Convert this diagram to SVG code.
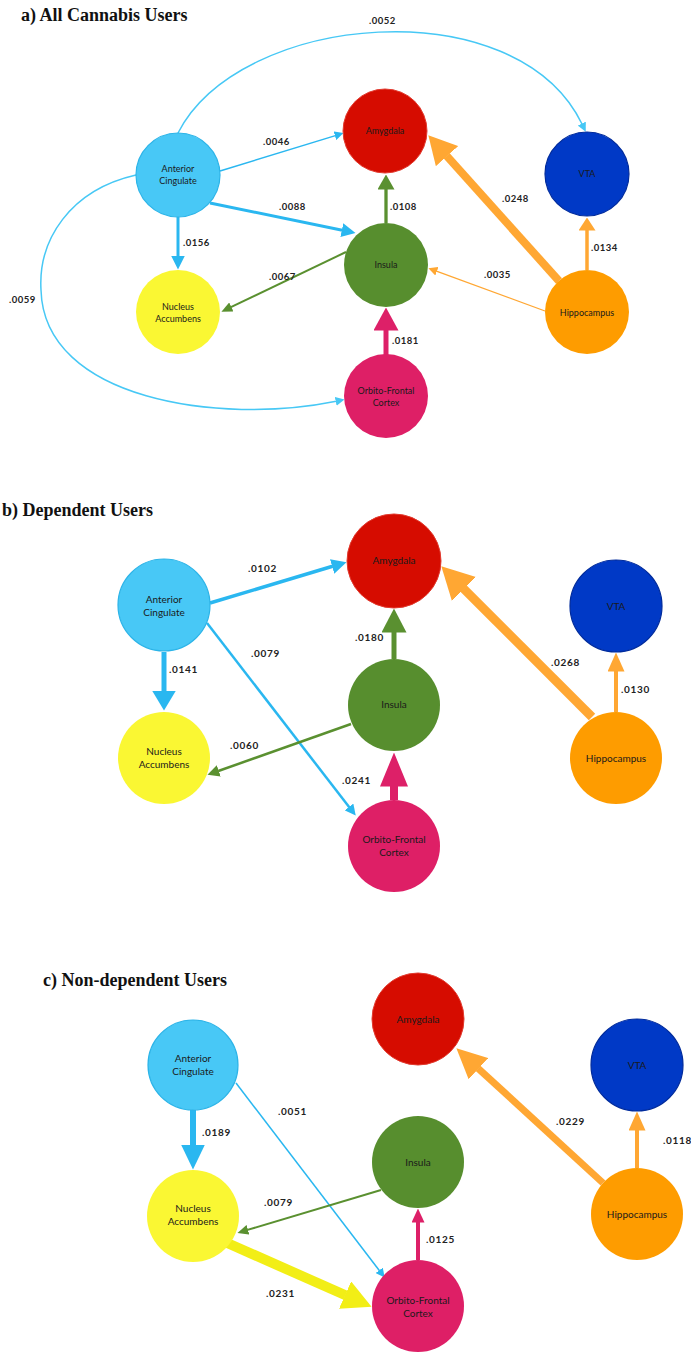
<svg xmlns="http://www.w3.org/2000/svg" width="691" height="1353" viewBox="0 0 691 1353">
<style>
.title{font-family:"Liberation Serif","Times New Roman",serif;font-weight:bold;font-size:18px;fill:#111}
.nl{font-family:Lato,"Open Sans",sans-serif;font-size:9px;fill:#1a1a1a;text-anchor:middle}
.nlb{font-family:Lato,"Open Sans",sans-serif;font-size:10px;fill:#1a1a1a;text-anchor:middle}
.el{font-family:Lato,"Open Sans",sans-serif;font-weight:bold;font-size:9.5px;fill:#222;letter-spacing:0.5px}
.elb{font-family:Lato,"Open Sans",sans-serif;font-weight:bold;font-size:10px;fill:#222;letter-spacing:0.7px}
.ac{fill:#48c8f6;stroke:#2cb4e8;stroke-width:1.2}
.am{fill:#d60c00;stroke:#e23a2e;stroke-width:1}
.vta{fill:#0039c6;stroke:#002b9c;stroke-width:1.2}
.ins{fill:#578e2e}
.hip{fill:#fe9c00}
.ofc{fill:#de1f66}
.nac{fill:#faf733}
.eb{fill:none;stroke:#2ab7f0}
.elb2{fill:none;stroke:#47c8f5}
.eg{fill:none;stroke:#5a9030}
.eo{fill:none;stroke:#ffa733}
.ep{fill:none;stroke:#dd2068}
.ey{fill:none;stroke:#f2ee16}
</style>
<defs>
<marker id="mLB1" markerUnits="userSpaceOnUse" markerWidth="9" markerHeight="9" refX="0.5" refY="4.5" orient="auto"><path d="M0,0 L9,4.5 L0,9 z" fill="#47c8f5"/></marker>
<marker id="mB1" markerUnits="userSpaceOnUse" markerWidth="9" markerHeight="9" refX="0.5" refY="4.5" orient="auto"><path d="M0,0 L9,4.5 L0,9 z" fill="#2ab7f0"/></marker>
<marker id="mB2" markerUnits="userSpaceOnUse" markerWidth="14" markerHeight="14" refX="0.5" refY="7" orient="auto"><path d="M0,0 L14,7 L0,14 z" fill="#2ab7f0"/></marker>
<marker id="mB2b" markerUnits="userSpaceOnUse" markerWidth="15" markerHeight="15" refX="0.5" refY="7.5" orient="auto"><path d="M0,0 L15,7.5 L0,15 z" fill="#2ab7f0"/></marker>
<marker id="mB3" markerUnits="userSpaceOnUse" markerWidth="11" markerHeight="11" refX="0.5" refY="5.5" orient="auto"><path d="M0,0 L11,5.5 L0,11 z" fill="#2ab7f0"/></marker>
<marker id="mB4" markerUnits="userSpaceOnUse" markerWidth="20" markerHeight="24" refX="0.5" refY="12" orient="auto"><path d="M0,0 L20,12 L0,24 z" fill="#2ab7f0"/></marker>
<marker id="mB5" markerUnits="userSpaceOnUse" markerWidth="25" markerHeight="24" refX="0.5" refY="12" orient="auto"><path d="M0,0 L25,12 L0,24 z" fill="#2ab7f0"/></marker>
<marker id="mG1" markerUnits="userSpaceOnUse" markerWidth="11" markerHeight="10" refX="0.5" refY="5" orient="auto"><path d="M0,0 L11,5 L0,10 z" fill="#5a9030"/></marker>
<marker id="mG1b" markerUnits="userSpaceOnUse" markerWidth="12" markerHeight="12" refX="0.5" refY="6" orient="auto"><path d="M0,0 L12,6 L0,12 z" fill="#5a9030"/></marker>
<marker id="mG2" markerUnits="userSpaceOnUse" markerWidth="15" markerHeight="17" refX="0.5" refY="8.5" orient="auto"><path d="M0,0 L15,8.5 L0,17 z" fill="#5a9030"/></marker>
<marker id="mG3" markerUnits="userSpaceOnUse" markerWidth="24" markerHeight="25" refX="0.5" refY="12.5" orient="auto"><path d="M0,0 L24,12.5 L0,25 z" fill="#5a9030"/></marker>
<marker id="mO1" markerUnits="userSpaceOnUse" markerWidth="9" markerHeight="9" refX="0.5" refY="4.5" orient="auto"><path d="M0,0 L9,4.5 L0,9 z" fill="#ffa733"/></marker>
<marker id="mO2" markerUnits="userSpaceOnUse" markerWidth="13" markerHeight="17" refX="0.5" refY="8.5" orient="auto"><path d="M0,0 L13,8.5 L0,17 z" fill="#ffa733"/></marker>
<marker id="mO3" markerUnits="userSpaceOnUse" markerWidth="19" markerHeight="17" refX="0.5" refY="8.5" orient="auto"><path d="M0,0 L19,8.5 L0,17 z" fill="#ffa733"/></marker>
<marker id="mO4" markerUnits="userSpaceOnUse" markerWidth="28" markerHeight="30" refX="0.5" refY="15" orient="auto"><path d="M0,0 L28,15 L0,30 z" fill="#ffa733"/></marker>
<marker id="mO5" markerUnits="userSpaceOnUse" markerWidth="32" markerHeight="34" refX="0.5" refY="17" orient="auto"><path d="M0,0 L32,17 L0,34 z" fill="#ffa733"/></marker>
<marker id="mO6" markerUnits="userSpaceOnUse" markerWidth="30" markerHeight="29" refX="0.5" refY="14.5" orient="auto"><path d="M0,0 L30,14.5 L0,29 z" fill="#ffa733"/></marker>
<marker id="mP1" markerUnits="userSpaceOnUse" markerWidth="23" markerHeight="25" refX="0.5" refY="12.5" orient="auto"><path d="M0,0 L23,12.5 L0,25 z" fill="#dd2068"/></marker>
<marker id="mP2" markerUnits="userSpaceOnUse" markerWidth="34" markerHeight="28" refX="0.5" refY="14" orient="auto"><path d="M0,0 L34,14 L0,28 z" fill="#dd2068"/></marker>
<marker id="mP3" markerUnits="userSpaceOnUse" markerWidth="14" markerHeight="13" refX="0.5" refY="6.5" orient="auto"><path d="M0,0 L14,6.5 L0,13 z" fill="#dd2068"/></marker>
<marker id="mY1" markerUnits="userSpaceOnUse" markerWidth="29" markerHeight="30" refX="0.5" refY="15" orient="auto"><path d="M0,0 L29,15 L0,30 z" fill="#f2ee16"/></marker>
</defs>

<text class="title" x="21" y="21">a) All Cannabis Users</text>
<text class="title" x="2" y="516">b) Dependent Users</text>
<text class="title" x="43" y="986">c) Non-dependent Users</text>

<g id="connectors">
<!-- panel a -->
<path class="elb2" stroke-width="1.5" d="M178,133 C240,12 516,-12 582,124" marker-end="url(#mLB1)"/>
<path class="elb2" stroke-width="1.5" d="M136,175 C70,190 38,240 41,290 C44,400 220,425 336.2,401.3" marker-end="url(#mLB1)"/>
<path class="eb" stroke-width="1.5" d="M220,171 L335.4,135.6" marker-end="url(#mB1)"/>
<path class="eb" stroke-width="3" d="M210,203 L342.3,230.2" marker-end="url(#mB2)"/>
<path class="eb" stroke-width="3" d="M178,217 L178,256" marker-end="url(#mB2)"/>
<path class="eg" stroke-width="2" d="M346,252 L230.9,307.2" marker-end="url(#mG1)"/>
<path class="eg" stroke-width="3.3" d="M386,223 L386,189" marker-end="url(#mG2)"/>
<path class="eo" stroke-width="8" d="M559,281 L446.7,155.8" marker-end="url(#mO4)"/>
<path class="eo" stroke-width="3.5" d="M587,270 L587,230" marker-end="url(#mO2)"/>
<path class="eo" stroke-width="1.3" d="M545,311 L436.4,271.1" marker-end="url(#mO1)"/>
<path class="ep" stroke-width="5" d="M386,355 L386,330" marker-end="url(#mP1)"/>
<!-- panel b -->
<path class="eb" stroke-width="3.5" d="M210,603 L332.6,566.3" marker-end="url(#mB2b)"/>
<path class="eb" stroke-width="2.5" d="M207,623 L349.3,807.3" marker-end="url(#mB3)"/>
<path class="eb" stroke-width="5" d="M164,652 L164,691" marker-end="url(#mB4)"/>
<path class="eg" stroke-width="2.5" d="M351,724 L218.3,771" marker-end="url(#mG1b)"/>
<path class="eg" stroke-width="5" d="M394,659 L394,632" marker-end="url(#mG3)"/>
<path class="eo" stroke-width="9" d="M592,717 L463.6,588.6" marker-end="url(#mO5)"/>
<path class="eo" stroke-width="4" d="M616,712 L616,671" marker-end="url(#mO3)"/>
<path class="ep" stroke-width="8" d="M394,800 L394,786" marker-end="url(#mP2)"/>
<!-- panel c -->
<path class="eb" stroke-width="6" d="M193,1110 L193,1145" marker-end="url(#mB5)"/>
<path class="eb" stroke-width="1.5" d="M236,1083 L379.5,1270.8" marker-end="url(#mB1)"/>
<path class="eg" stroke-width="2" d="M381,1190 L247.5,1229.9" marker-end="url(#mG1)"/>
<path class="ey" stroke-width="10" d="M225,1242 L345.5,1295.3" marker-end="url(#mY1)"/>
<path class="ep" stroke-width="4" d="M418,1260 L418,1222" marker-end="url(#mP3)"/>
<path class="eo" stroke-width="7" d="M603,1183 L478.1,1068.3" marker-end="url(#mO6)"/>
<path class="eo" stroke-width="4" d="M637,1168 L637,1130" marker-end="url(#mO3)"/>
</g>

<g id="edge-labels">
<text class="el" x="369" y="24">.0052</text>
<text class="el" x="263" y="145">.0046</text>
<text class="el" x="279" y="210">.0088</text>
<text class="el" x="390" y="210">.0108</text>
<text class="el" x="502" y="202">.0248</text>
<text class="el" x="183" y="246">.0156</text>
<text class="el" x="269" y="280">.0067</text>
<text class="el" x="9" y="303">.0059</text>
<text class="el" x="591" y="251">.0134</text>
<text class="el" x="484" y="278">.0035</text>
<text class="el" x="392" y="344">.0181</text>

<text class="elb" x="248" y="572">.0102</text>
<text class="elb" x="251" y="657">.0079</text>
<text class="elb" x="169" y="673">.0141</text>
<text class="elb" x="355" y="641">.0180</text>
<text class="elb" x="551" y="666">.0268</text>
<text class="elb" x="621" y="693">.0130</text>
<text class="elb" x="230" y="749">.0060</text>
<text class="elb" x="342" y="784">.0241</text>

<text class="elb" x="202" y="1136">.0189</text>
<text class="elb" x="278" y="1115">.0051</text>
<text class="elb" x="556" y="1125">.0229</text>
<text class="elb" x="663" y="1144">.0118</text>
<text class="elb" x="264" y="1206">.0079</text>
<text class="elb" x="426" y="1243">.0125</text>
<text class="elb" x="266" y="1297">.0231</text>
</g>

<!-- panel a nodes -->
<g id="a-anterior-cingulate"><circle class="ac" cx="178" cy="175" r="42"/><text class="nl" x="178" y="172">Anterior<tspan x="178" dy="12">Cingulate</tspan></text></g>
<g id="a-amygdala"><circle class="am" cx="385" cy="131" r="42"/><text class="nl" x="385" y="134">Amygdala</text></g>
<g id="a-vta"><circle class="vta" cx="587" cy="174" r="42"/><text class="nl" x="587" y="177">VTA</text></g>
<g id="a-insula"><circle class="ins" cx="386" cy="265" r="42"/><text class="nl" x="386" y="268">Insula</text></g>
<g id="a-hippocampus"><circle class="hip" cx="587" cy="312" r="42"/><text class="nl" x="587" y="316">Hippocampus</text></g>
<g id="a-nucleus-accumbens"><circle class="nac" cx="178" cy="312" r="42"/><text class="nl" x="178" y="310">Nucleus<tspan x="178" dy="12">Accumbens</tspan></text></g>
<g id="a-orbito-frontal"><circle class="ofc" cx="386" cy="396" r="42"/><text class="nl" x="386" y="394">Orbito-Frontal<tspan x="386" dy="12">Cortex</tspan></text></g>

<!-- panel b nodes -->
<g id="b-anterior-cingulate"><circle class="ac" cx="164" cy="605" r="46"/><text class="nlb" x="164" y="603">Anterior<tspan x="164" dy="13">Cingulate</tspan></text></g>
<g id="b-amygdala"><circle class="am" cx="394" cy="561" r="47"/><text class="nlb" x="394" y="564">Amygdala</text></g>
<g id="b-vta"><circle class="vta" cx="616" cy="606" r="46"/><text class="nlb" x="616" y="610">VTA</text></g>
<g id="b-insula"><circle class="ins" cx="394" cy="705" r="46"/><text class="nlb" x="394" y="708">Insula</text></g>
<g id="b-hippocampus"><circle class="hip" cx="616" cy="758" r="46"/><text class="nlb" x="616" y="762">Hippocampus</text></g>
<g id="b-nucleus-accumbens"><circle class="nac" cx="164" cy="758" r="46"/><text class="nlb" x="164" y="755">Nucleus<tspan x="164" dy="13">Accumbens</tspan></text></g>
<g id="b-orbito-frontal"><circle class="ofc" cx="394" cy="846" r="46"/><text class="nlb" x="394" y="843">Orbito-Frontal<tspan x="394" dy="13">Cortex</tspan></text></g>

<!-- panel c nodes -->
<g id="c-anterior-cingulate"><circle class="ac" cx="193" cy="1065" r="45"/><text class="nlb" x="193" y="1062">Anterior<tspan x="193" dy="13">Cingulate</tspan></text></g>
<g id="c-amygdala"><circle class="am" cx="418" cy="1019" r="46"/><text class="nlb" x="418" y="1023">Amygdala</text></g>
<g id="c-vta"><circle class="vta" cx="637" cy="1065" r="46"/><text class="nlb" x="637" y="1069">VTA</text></g>
<g id="c-insula"><circle class="ins" cx="418" cy="1162" r="46"/><text class="nlb" x="418" y="1166">Insula</text></g>
<g id="c-hippocampus"><circle class="hip" cx="637" cy="1214" r="46"/><text class="nlb" x="637" y="1218">Hippocampus</text></g>
<g id="c-nucleus-accumbens"><circle class="nac" cx="193" cy="1216" r="46"/><text class="nlb" x="193" y="1212">Nucleus<tspan x="193" dy="13">Accumbens</tspan></text></g>
<g id="c-orbito-frontal"><circle class="ofc" cx="418" cy="1306" r="46"/><text class="nlb" x="418" y="1304">Orbito-Frontal<tspan x="418" dy="13">Cortex</tspan></text></g>
</svg>
